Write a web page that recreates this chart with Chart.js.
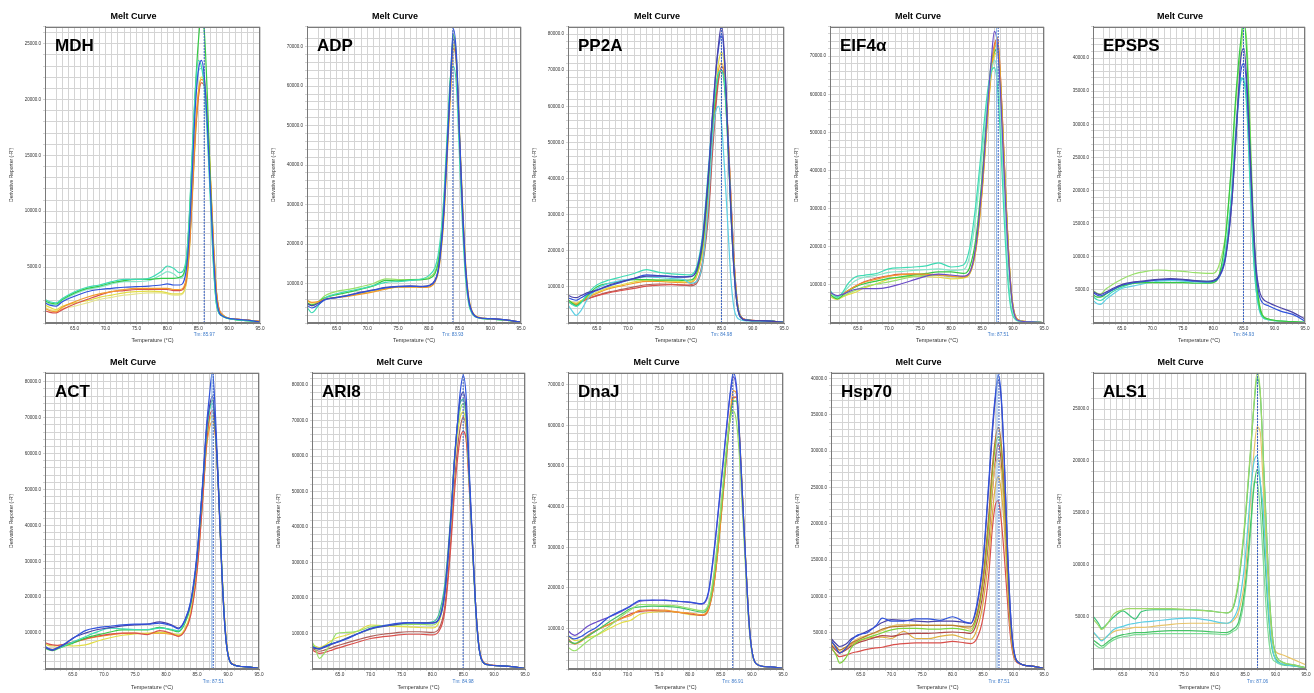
<!DOCTYPE html>
<html>
<head>
<meta charset="utf-8">
<script src="https://cdn.jsdelivr.net/npm/chart.js@4.4.1/dist/chart.umd.min.js"></script>
<style>
  html, body { margin: 0; padding: 0; background: #fff; }
  #wrap { position: relative; width: 1314px; height: 693px; overflow: hidden; background: #fff; }
  #wrap canvas { position: absolute; }
</style>
</head>
<body>
<div id="wrap"></div>
<script>
// line colours of the melt curve software
const BLUE = '#2f52dc', NAVY = '#4b43a8', PURPLE = '#6a4cc8', GREEN = '#35c945', LGREEN = '#98e06a',
      TURQ = '#3fdbb4', LTURQ = '#85e6c8', CYAN = '#5ccfe4', YELLOW = '#e2dc45', LYELLOW = '#e6e48e',
      ORANGE = '#f39a2c', RED = '#d9504c', BROWN = '#b0605a', OYELLOW = '#e8c46a', DGREEN = '#45c466';

// values are derivative reporter in thousands (-R' / 1000)

// MDH
const mdhTemps = [60.2,61,62,63,65,67,69,71,73,75,77,79,80,81,82,83,83.5,84,84.5,85,85.5,86,86.5,87,87.5,88,89,91,93,95];
const mdhCurves = [
  [1.8,1.6,1.5,1.9,2.4,2.8,3.0,3.1,3.2,3.25,3.3,3.4,3.5,3.4,3.4,4.5,7.5,13,19,22.5,23.5,22,17.5,11.5,5.8,2.0,0.6,0.35,0.25,0.1],
  [2.1,1.9,1.8,2.2,2.8,3.2,3.4,3.7,3.9,3.9,4.0,4.6,5.1,4.9,4.5,5.5,9,15,20.5,23.5,23,21,16.5,10.5,4.8,1.5,0.6,0.3,0.2,0.1],
  [2.0,1.8,1.7,2.1,2.7,3.1,3.3,3.6,3.8,3.9,3.9,4.0,4.0,4.0,4.1,5.2,8.8,14.5,20.5,25,27.5,26,20,12,5.2,1.6,0.6,0.3,0.2,0.1],
  [1.9,1.7,1.6,2.0,2.6,3.0,3.2,3.5,3.7,3.7,3.8,4.3,4.6,4.4,4.0,5.0,8.2,14,19.5,22.5,22.8,21.5,17,11,5,1.6,0.6,0.3,0.2,0.1],
  [1.3,1.1,1.0,1.4,1.9,2.3,2.6,2.8,3.0,3.1,3.1,3.1,3.1,3.0,3.0,3.8,6.5,11.5,17,20.5,21.8,21.5,18,12.5,6.5,2.4,0.7,0.35,0.25,0.15],
  [1.1,0.95,0.9,1.2,1.7,2.1,2.5,2.8,2.9,3.0,3.0,3.0,3.0,2.9,2.9,3.6,6.2,11,16.5,20,21.5,21.2,17.8,12.5,6.6,2.5,0.7,0.35,0.25,0.15],
  [1.6,1.4,1.2,1.5,1.8,2.0,2.3,2.5,2.7,2.8,2.85,2.8,2.7,2.6,2.6,3.4,6,11,16.5,20.5,22,21.8,18.5,13,7,2.6,0.7,0.35,0.25,0.15],
  [1.4,1.2,1.1,1.3,1.5,1.8,2.1,2.3,2.5,2.6,2.7,2.7,2.6,2.5,2.5,3.3,5.8,10.5,16,20,21.5,21.2,18,12.8,6.8,2.5,0.7,0.35,0.25,0.15]
];
const mdhColors = [BLUE, TURQ, GREEN, LTURQ, ORANGE, RED, YELLOW, LYELLOW];

// ADP
const adpTemps = [60.2,61,62,63,65,67,69,71,73,75,77,79,80,81,81.5,82,82.5,83,83.5,84,84.5,85,85.5,86,86.5,87,88,90,92.5,95];
const adpCurves = [
  [4.5,3.8,4.6,5.8,6.4,7.0,7.7,8.3,8.9,9.2,9.3,9.2,9.4,10.6,13,19,29,44,60,74.5,68,48,29,14,6,3,1.4,1.1,0.8,0.2],
  [5.0,4.4,5.0,5.9,6.5,7.1,7.8,8.4,9.0,9.3,9.4,9.3,9.5,10.8,13.2,19.5,29.5,44.5,60,72,66,47,28,13.5,5.8,2.9,1.4,1.1,0.8,0.2],
  [5.8,5.2,5.4,6.0,6.4,6.8,7.3,7.9,8.6,9.1,9.1,9.0,9.1,10.3,12.5,18,27.5,42,57,69.5,66,48,30,15,6.5,3.2,1.5,1.1,0.8,0.2],
  [5.6,5.0,5.2,5.9,6.5,7.0,7.5,8.1,8.7,9.1,9.2,9.1,9.3,10.5,12.8,18.5,28,43,58,70.5,67,48.5,30,14.5,6.3,3.1,1.5,1.1,0.8,0.2],
  [4.0,2.6,4.3,6.2,7.4,8.1,8.7,9.5,10.3,10.5,10.8,11.2,12,14,17,23,33,48,62,65,60,42,24,11,4.8,2.5,1.3,1.0,0.7,0.2],
  [5.2,4.6,5.3,6.3,7.2,7.8,8.6,9.4,10.8,10.7,10.9,11.0,11.2,12.5,15,21,31,46,61,73,67,47,28,13,5.5,2.8,1.4,1.0,0.7,0.2],
  [5.0,4.3,5.3,6.8,8.0,8.5,9.2,10,11.2,11.0,11.0,11.1,11.5,13,15.5,21.5,31.5,46.5,61,70,65,46,27,12.5,5.3,2.7,1.4,1.0,0.7,0.2]
];
const adpColors = [BLUE, NAVY, ORANGE, YELLOW, TURQ, GREEN, LGREEN];

// PP2A
const pp2aTemps = [60.4,61,61.7,62.5,63.5,65,67,69,71,73,75,77,79,80,81,82,83,83.5,84,84.5,85,85.5,86,86.5,87,87.5,88,89,92,95];
const pp2aCurves = [
  [7.7,7.2,7.0,7.6,8.4,9.1,10.5,11.5,12.3,13.0,13.0,12.8,12.7,12.8,14.5,23,43,56,68,77,82.5,73,52,31,14.5,5,1.7,0.8,0.6,0.2],
  [7.0,6.6,6.3,7.0,8.0,9.0,10.3,11.3,12.4,13.3,13.1,12.9,12.8,12.9,14.8,24,44,57,68,76,80,72,52,31,14.5,5,1.7,0.8,0.6,0.2],
  [6.0,5.2,4.6,5.6,8.0,10.5,11.9,12.8,13.7,14.8,14.0,13.6,13.4,13.3,15.5,25,45,56,64,69,70,66,50,30,14,5,1.7,0.8,0.6,0.2],
  [5.0,3.5,2.1,3.5,6.5,9.5,11.0,11.8,12.3,12.8,12.6,12.3,12.0,11.0,11.5,17,36,50,58,60,55,42,27,12,4,1.5,0.9,0.6,0.5,0.2],
  [6.5,5.6,4.8,5.8,7.5,10.0,11.0,11.5,12.0,12.0,11.9,11.9,11.8,11.9,13.8,22,41,53,63,69,70,65,50,31,15,5.5,1.8,0.8,0.6,0.2],
  [6.3,5.8,5.5,6.2,7.3,8.5,9.8,10.6,11.4,11.9,11.8,11.6,11.4,11.5,13.3,21,40,53,64,72,75,70,53,33,16,5.5,1.8,0.8,0.6,0.2],
  [6.0,5.5,5.2,6.0,7.0,8.2,9.5,10.3,11.0,11.5,11.5,11.3,11.2,11.2,13,20.5,39,52,63,70,72,68,53,33,16,5.6,1.8,0.8,0.6,0.2],
  [6.0,5.3,5.0,5.8,6.6,7.5,8.4,9.0,9.6,10.2,10.5,10.6,10.5,10.6,11.5,17.5,34,48,60,68,70,67,53,34,17,6,2.0,0.9,0.6,0.2],
  [6.2,5.6,5.4,6.0,6.8,7.6,8.6,9.3,10.0,10.6,10.8,10.7,10.5,10.3,11,16.5,32,46,58,67,71,68,54,35,17.5,6.2,2.0,0.9,0.6,0.2]
];
const pp2aColors = [NAVY, BLUE, TURQ, CYAN, GREEN, YELLOW, ORANGE, RED, BROWN];

// EIF4α
const eifTemps = [60.5,61,61.7,62.5,63.5,64.5,66,68,70,72,74,76,78,80,82,83,84,85,85.5,86,86.5,87,87.5,88,88.5,89,89.5,90,91,93,95];
const eifCurves = [
  [8.1,7.6,7.2,7.5,8.2,8.8,9.0,9.0,9.4,10.3,11.3,12.3,12.8,12.6,12.3,13.2,20,36,47,59,69,76.5,73,60,42,25,12,4,0.6,0.3,0.1],
  [8.6,7.5,6.8,8.0,10.5,12.0,12.5,13.0,14.2,14.5,14.7,15.0,15.8,14.7,15.2,19.5,31,47,55,62,66,67,62,48,30,15,5.5,1.8,0.5,0.3,0.1],
  [8.3,7.3,6.7,7.8,9.5,11.0,12.0,12.5,13.3,13.5,13.8,14.0,14.2,13.8,14.0,17.5,28,44,52,60,66,69,66,54,36,19,7,2.4,0.5,0.3,0.1],
  [8.0,7.4,7.0,7.6,8.6,9.6,10.7,11.5,12.3,12.7,12.9,12.8,12.7,12.3,12.0,13.0,19,34,45,56,66,72,75,64,46,28,13,4.5,0.7,0.3,0.1],
  [7.6,6.8,6.3,7.2,8.5,9.4,10.3,11.0,11.7,12.1,12.6,13.0,13.4,13.4,13.0,14.5,22,38,49,60,68,71,72,62,44,27,12,4,0.6,0.3,0.1],
  [7.8,7.0,6.5,7.0,7.8,8.5,9.5,10.2,10.8,11.5,12.2,12.5,12.6,12.2,12.0,13.0,20,35,46,57,67,72,73,63,45,27,12.5,4.2,0.6,0.3,0.1],
  [7.0,6.5,6.2,6.8,7.5,8.0,9.2,10.3,11.5,12.0,12.3,12.2,12.0,11.6,11.8,12.8,19,34,45,56,65,70,71,62,45,28,13,4.5,0.7,0.3,0.1],
  [8.0,7.4,7.0,7.6,8.6,9.6,10.8,11.8,12.4,12.8,12.8,12.6,12.5,12.3,12.2,13.2,19.5,35,46,57,67,73,74.5,64,46,28,13,4.5,0.7,0.3,0.1]
];
const eifColors = [PURPLE, TURQ, LTURQ, ORANGE, GREEN, LGREEN, YELLOW, RED];

// EPSPS
const epspsTemps = [60.3,61,61.5,62.5,63.5,65,67,69,71,73,75,77,79,80,81,82,83,83.5,84,84.5,85,85.5,86,86.5,87,87.5,88,89,91,93,95];
const epspsCurves = [
  [4.8,4.4,4.3,4.7,5.2,5.8,6.2,6.4,6.6,6.7,6.6,6.4,6.3,6.4,7.2,10,18,25,33,40,41.5,36,26,16,8.4,5,3.8,3.1,2.3,1.6,0.6],
  [4.6,4.2,4.1,4.5,5.0,5.7,6.1,6.3,6.5,6.6,6.5,6.3,6.2,6.3,7.0,9.8,18,25,32.5,38,39.2,35,25,15,7.5,4.2,3.1,2.6,1.8,1.3,0.3],
  [4.3,3.9,3.9,4.4,5.0,5.6,6.0,6.1,6.1,6.1,6.1,6.0,6.0,6.1,7.4,13,24.5,32,38,42.7,46,40,28,15,6.8,2.8,1.2,0.6,0.3,0.2,0.1],
  [4.9,4.5,4.4,5.2,5.8,6.6,7.4,7.8,8.0,7.9,7.8,7.6,7.5,7.5,8.9,13.4,24,31,37,41,45,42,30,17,7.5,3.1,1.3,0.6,0.3,0.2,0.1],
  [4.0,3.5,3.4,4.0,4.7,5.4,6.0,6.3,6.5,6.6,6.5,6.4,6.3,6.4,7.3,11,20,27,33,37,36.5,32,21,11,5,2.2,1.0,0.5,0.3,0.2,0.1],
  [3.4,2.9,2.8,3.6,4.3,5.2,5.6,6.0,6.3,6.4,6.3,6.2,6.1,6.2,7.0,10.5,19,26,32,36.5,37,33,22,11.5,5,2.0,0.9,0.5,0.3,0.2,0.1]
];
const epspsColors = [NAVY, BLUE, GREEN, LGREEN, TURQ, CYAN];

// ACT
const actTemps = [60.5,61,61.7,62.5,63.5,65,67,69,71,73,75,77,79,81,82,83,84,85,86,86.5,87,87.5,88,88.5,89,89.5,90,91,93,95];
const actCurves = [
  [6.3,5.8,5.4,5.9,6.8,8.5,10.7,11.5,11.9,12.3,12.5,12.5,12.8,12.0,11.2,13.5,19,32,54,67,76,82.8,70,50,28,12,4,1.1,0.6,0.2],
  [6.0,5.6,5.2,5.8,6.7,8.6,10.0,11.0,11.5,12.0,12.3,12.5,13.1,12.2,11.4,13.3,18.5,31,53,66,73,76,66,48,27,11.5,3.9,1.1,0.6,0.2],
  [6.0,5.5,5.2,5.7,6.4,7.5,9.0,10.4,11.4,11.2,11.0,11.0,11.4,11.0,10.6,13,18.5,31,53,65,72,74,66,49,28,12,4,1.1,0.6,0.2],
  [5.8,5.4,5.1,5.6,6.3,7.2,8.6,9.5,10.3,10.9,10.9,10.9,11.6,10.8,10.4,12.5,18,31,53,65,72,75,66,49,28,12,4,1.1,0.6,0.2],
  [7.4,7.0,6.7,6.6,6.9,7.5,8.4,9.2,9.7,10.0,10.0,9.6,10.7,9.8,9.1,10.5,15,27,49,62,70,72,65,49,28,12.5,4.2,1.2,0.6,0.2],
  [7.0,6.6,6.4,6.5,6.6,6.4,6.7,7.8,8.7,9.4,9.8,10.0,10.2,9.9,9.5,11,16,28,50,62,69,70.5,65,49,28,12.5,4.2,1.2,0.6,0.2],
  [6.2,5.7,5.5,6.0,6.6,7.3,8.3,9.0,9.5,9.9,10.0,9.8,10.0,9.6,9.2,10.8,15.5,27.5,49,61,67,69,64,49,28.5,12.8,4.3,1.2,0.6,0.2]
];
const actColors = [BLUE, NAVY, TURQ, GREEN, RED, YELLOW, ORANGE];

// ARI8
const ariTemps = [60.5,61,61.7,62.5,63.5,64.5,66,68,70,72,74,76,78,80,81,82,83,83.5,84,84.5,85,85.5,86,86.5,87,87.5,88,89,92,95];
const ariCurves = [
  [6.3,6.0,5.8,6.3,7.0,7.5,8.4,10.0,11.5,12.2,12.8,13.1,13.0,12.9,13.8,21,42,57,68,78,82.8,76,55,36,18,6.8,2.5,1.2,0.8,0.2],
  [6.0,5.8,5.6,6.1,6.8,7.5,8.6,10.0,11.3,12.0,12.5,13.0,13.0,13.0,14,21.5,43,57,68,76,78,72,53,35,18,6.8,2.5,1.2,0.8,0.2],
  [6.5,6.0,5.6,6.3,7.0,7.6,8.6,10.0,11.2,12.0,12.5,12.9,13.0,13.3,15.2,23.7,44,58,68,75,76,70,52,34,17,6.5,2.4,1.2,0.8,0.2],
  [7.7,6.0,3.0,4.5,7.0,10.0,10.3,10.7,11.9,12.2,12.4,12.5,12.6,12.4,14,22.5,43,57,67,73,74.8,70,53,35,18,6.8,2.5,1.2,0.8,0.2],
  [7.0,6.5,6.0,6.6,7.8,8.8,9.5,10.8,12.4,12.2,12.0,11.9,11.7,11.6,13,21,41,55,65,71,72.5,68,52,35,18,7,2.6,1.2,0.8,0.2],
  [5.4,4.9,4.4,4.6,5.2,5.8,6.6,7.6,8.6,9.1,9.5,9.8,9.8,9.6,10.5,16.1,35,48,58,65,67,64,50,34,18,7.2,2.8,1.3,0.8,0.2],
  [5.8,5.4,5.0,5.3,5.9,6.5,7.3,8.3,9.2,9.8,10.2,10.5,10.5,10.3,11.2,17.5,37,51,61,68,71,67,52,35,18,7,2.7,1.3,0.8,0.2]
];
const ariColors = [BLUE, NAVY, '#3fb8a0', LGREEN, YELLOW, RED, BROWN];

// DnaJ
const dnajTemps = [60.4,61,61.5,62.5,63.5,65,67,69,70.5,72,74,76,78,80,82,83,84,85,86,86.5,87,87.5,88,88.5,89,89.5,90,91,93,95];
const dnajCurves = [
  [8.3,7.6,7.4,8.0,9.0,10.3,12.8,14.4,15.6,16.9,17.0,16.9,16.7,16.5,16.1,19,30.6,45.5,61,68,73,70,58,42,26.4,12.4,4.5,1,0.5,0.2],
  [9.5,8.6,8.3,9.2,10.5,11.6,12.8,14.2,15.5,16.7,16.9,17.0,16.7,16.4,16.0,18.6,30,45,60.5,67.5,72,69,57,41,26,12,4.4,1,0.5,0.2],
  [5.4,4.7,4.5,5.5,6.8,8.3,10.5,13,14.6,15.9,15.8,15.7,15.5,14.9,14.4,16,25,40,56,61.5,63.6,61,52,38,24,11,4,1,0.5,0.2],
  [7.0,6.5,6.3,7.0,8.0,9.5,11.6,13.5,14.9,15.3,15.5,15.4,15.2,14.6,14.0,15.5,24,39,55,62,66,66,56,41,26,12,4.5,1,0.5,0.2],
  [7.0,6.4,6.2,6.8,8.0,9.5,11.0,12.4,13.2,14.5,14.6,14.5,14.0,13.8,13.4,14.9,22.3,37.2,55,63,68.6,68,58,42,26.4,12.4,4.5,1,0.5,0.2],
  [7.5,6.6,6.2,7.0,8.2,9.6,11.0,12.5,13.6,14.2,14.4,14.3,14.0,13.6,13.2,14.6,22,37,54,62,67,67,57,42,26.4,12.4,4.5,1,0.5,0.2],
  [8.0,7.4,7.0,7.2,7.7,8.3,9.9,11.4,12.0,13.5,14.0,14.2,14.0,13.4,13.2,14.5,22,36.5,54,62,66.5,67,57,42,26.4,12.4,4.5,1,0.5,0.2]
];
const dnajColors = [BLUE, PURPLE, LGREEN, DGREEN, ORANGE, RED, YELLOW];

// Hsp70
const hspTemps = [60.1,61,61.5,62.5,63.5,64.5,66,67.5,68.5,70,72,74,76,78,80,82,83,84,85,86,86.5,87,87.5,88,88.5,89,89.5,90,91,93,95];
const hspCurves = [
  [4.0,2.8,2.2,2.8,4.0,4.7,5.0,6.0,7.0,6.6,6.6,6.9,6.9,6.7,7.2,6.5,6.3,8.9,14.9,26.4,32.8,37.5,40.5,37.5,28.7,17.2,7.9,2.9,0.8,0.4,0.1],
  [4.2,3.4,3.1,3.4,4.2,4.6,5.2,5.9,6.4,6.8,6.7,6.6,6.5,6.6,6.6,6.4,6.3,8.6,14.5,25.8,32,37,39.8,37,28.5,17,7.8,2.9,0.8,0.4,0.1],
  [3.8,3.0,2.6,3.0,3.6,4.0,4.6,5.1,5.5,5.8,5.9,6.0,6.0,6.0,6.0,5.8,5.8,7.6,12.5,21.8,27.5,31.5,33.3,31,24.5,14.8,6.8,2.6,0.8,0.4,0.1],
  [3.1,1.8,0.8,1.5,3.0,3.8,4.3,4.7,5.0,5.4,5.6,5.6,5.5,5.5,5.6,5.4,5.2,7.2,12,20.5,26.5,30.5,32,30,23.5,14.2,6.5,2.5,0.8,0.4,0.1],
  [3.8,3.0,2.6,3.0,3.6,4.2,4.6,5.0,5.3,5.9,6.1,6.1,6.0,6.0,6.0,5.7,5.5,7,11.5,19.5,24.5,28,29,27,21.5,13,6,2.3,0.8,0.4,0.1],
  [3.3,2.5,2.2,2.6,3.2,3.6,4.0,4.4,4.6,4.5,4.8,4.9,4.9,5.0,5.1,5.0,4.9,6.4,10.5,18.5,24,28.5,31,28.5,22,13.5,6.2,2.4,0.8,0.4,0.1],
  [3.5,2.6,2.3,2.8,3.4,3.8,4.2,4.4,4.4,4.2,5.2,4.2,4.2,4.5,4.7,4.2,4.1,5.4,9,16,21,25,26.5,24.5,19.5,12,5.5,2.2,0.8,0.4,0.1],
  [2.9,2.0,1.7,1.9,2.2,2.4,2.7,2.9,3.0,3.3,3.5,3.6,3.6,3.6,3.8,3.6,3.5,4.2,7.0,13.5,19,22.5,23.2,20.4,15.5,9.5,4.5,1.8,0.7,0.4,0.1]
];
const hspColors = [BLUE, NAVY, '#b87a30', '#7ed33a', OYELLOW, '#b04848', '#e0b040', RED];

// ALS1
const alsTemps = [60.1,61,61.5,62.5,63.5,65,66,67,68,70,73,76,79,82,83,84,85,86,86.5,87,87.5,88,88.5,89,89.5,90,91,93,95];
const alsCurves = [
  [4.8,4.2,3.8,4.4,5.3,5.7,5.8,5.8,5.8,5.8,5.8,5.7,5.6,5.4,5.9,8.8,14.4,21.8,25.7,28.6,26.7,20.2,13.4,6.9,3.0,1.4,0.7,0.4,0.1],
  [5.1,4.4,3.9,4.4,5.0,5.6,5.2,4.8,5.5,5.7,5.7,5.7,5.6,5.4,5.8,8.5,14,21.5,25.5,28,26.5,20.5,13.8,7.2,3.2,1.5,0.7,0.4,0.1],
  [3.6,3.0,2.7,3.2,3.8,4.1,4.3,4.4,4.5,4.6,4.8,4.9,4.7,4.4,4.8,6.2,10.4,17.6,20,20.5,18,15.3,9.5,4.6,2,0.9,0.5,0.3,0.1],
  [3.5,3.0,2.8,3.2,3.6,3.8,3.9,4.0,4.0,4.1,4.3,4.4,4.4,4.4,4.6,5.6,8.8,17,21,23.3,22.8,17.5,11.4,6.2,2.7,1.7,1.4,0.9,0.4],
  [2.8,2.4,2.2,2.6,3.0,3.3,3.4,3.5,3.5,3.6,3.7,3.7,3.6,3.5,3.8,4.6,7.9,14.4,17.6,19.2,17.9,13.4,8.2,4.0,1.8,1.0,0.5,0.3,0.1],
  [2.5,2.1,2.0,2.4,2.8,3.1,3.2,3.3,3.3,3.4,3.4,3.4,3.4,3.3,3.6,4.2,7.2,13.7,18,17.9,15.3,10.4,5.6,2.3,1.0,0.7,0.4,0.3,0.1]
];
const alsColors = ['#9ed868', '#3cc47a', CYAN, OYELLOW, DGREEN, '#7fdc96'];

const genes = ['MDH', 'ADP', 'PP2A', 'EIF4α', 'EPSPS', 'ACT', 'ARI8', 'DnaJ', 'Hsp70', 'ALS1'];
const tmLabels = ['85.97', '83.93', '84.98', '87.51', '84.93', '87.51', '84.98', '86.91', '87.51', '87.06'];
const tmLines = [[85.97], [83.93], [84.98], [87.35, 87.62], [84.93], [87.4, 87.62], [84.98], [86.91], [87.3, 87.62], [87.06]];
const yMax = [26.5, 75, 82, 77.7, 44.7, 82.5, 83.5, 73, 40.8, 28.5];
const yMajor = [5, 10, 10, 10, 5, 10, 10, 10, 5, 5];

const tempSets = [mdhTemps, adpTemps, pp2aTemps, eifTemps, epspsTemps, actTemps, ariTemps, dnajTemps, hspTemps, alsTemps];
const curveSets = [mdhCurves, adpCurves, pp2aCurves, eifCurves, epspsCurves, actCurves, ariCurves, dnajCurves, hspCurves, alsCurves];
const colorSets = [mdhColors, adpColors, pp2aColors, eifColors, epspsColors, actColors, ariColors, dnajColors, hspColors, alsColors];

// page layout (plot box edges in page pixels)
const plotLeft = [45, 307, 568, 830, 1093, 45, 312, 568, 831, 1093];
const plotRight = [260, 521, 784, 1044, 1305, 259, 525, 783, 1044, 1306];

const FONT = '"Liberation Sans", Arial, sans-serif';
const GRID = '#d4d4d4';
const AXW = 38, PADR = 8;

const decoPlugin = {
  id: 'deco',
  afterDraw(chart, args, opts) {
    const { ctx, chartArea: a } = chart;
    const x = chart.scales.x;
    ctx.save();
    ctx.strokeStyle = '#7a7a7a';
    ctx.lineWidth = 1;
    ctx.strokeRect(Math.round(a.left) + 0.5, Math.round(a.top) + 0.5, Math.round(a.width) - 1, Math.round(a.height) - 1);
    ctx.fillStyle = '#000';
    ctx.font = 'bold 17px ' + FONT;
    ctx.textAlign = 'left';
    ctx.textBaseline = 'alphabetic';
    ctx.fillText(opts.gene, a.left + 10, a.top + 24);
    ctx.fillStyle = '#3a78c8';
    ctx.font = '4.7px ' + FONT;
    ctx.textAlign = 'center';
    ctx.textBaseline = 'middle';
    ctx.fillText('Tm: ' + opts.tm, x.getPixelForValue(opts.tmAt), a.bottom + opts.tmGap);
    ctx.restore();
  }
};

const wrap = document.getElementById('wrap');

genes.forEach((gene, p) => {
  const row = p < 5 ? 0 : 1;
  const top = row ? 345 : 0;
  const h = row ? 348 : 345;
  const xAxisH = row ? 24 : 22;
  const w = plotRight[p] - plotLeft[p] + AXW + PADR;

  const cv = document.createElement('canvas');
  cv.width = w;
  cv.height = h;
  cv.style.left = (plotLeft[p] - AXW) + 'px';
  cv.style.top = top + 'px';
  cv.style.width = w + 'px';
  cv.style.height = h + 'px';
  wrap.appendChild(cv);

  const temps = tempSets[p];
  const datasets = curveSets[p].map((vals, i) => ({
    data: temps.map((t, j) => ({ x: t, y: vals[j] })),
    borderColor: colorSets[p][i],
    borderWidth: 1.2,
    pointRadius: 0,
    cubicInterpolationMode: 'monotone',
    fill: false
  }));
  const lines = tmLines[p];
  lines.forEach((t, k) => {
    const light = lines.length > 1 && k === 0;
    datasets.push({
      data: [{ x: t, y: 0 }, { x: t, y: yMax[p] }],
      borderColor: light ? '#8cb6e6' : '#3b63c4',
      borderWidth: 1,
      borderDash: light ? [] : [2, 1],
      pointRadius: 0,
      order: -1
    });
  });

  const major = yMajor[p];
  new Chart(cv, {
    type: 'line',
    data: { datasets },
    options: {
      responsive: false,
      animation: false,
      events: [],
      layout: { padding: { left: 0, right: PADR, top: 0, bottom: 0 } },
      plugins: {
        legend: { display: false },
        tooltip: { enabled: false },
        title: {
          display: true,
          text: 'Melt Curve',
          color: '#000',
          font: { family: FONT, size: 9, weight: 'bold' },
          padding: { top: row ? 12.5 : 11.6, bottom: 4.5 }
        },
        deco: { gene, tm: tmLabels[p], tmAt: lines[lines.length - 1], tmGap: row ? 13 : 12 }
      },
      scales: {
        x: {
          type: 'linear',
          min: temps[0],
          max: 95,
          afterFit: s => { s.height = xAxisH; },
          grid: { color: GRID, lineWidth: 1, tickLength: 2 },
          border: { color: '#7a7a7a' },
          ticks: {
            stepSize: 1,
            autoSkip: false,
            maxRotation: 0,
            minRotation: 0,
            padding: 1,
            color: '#333',
            font: { family: FONT, size: 4.7 },
            callback: v => (Math.abs(v / 5 - Math.round(v / 5)) < 1e-6 ? Number(v).toFixed(1) : '')
          },
          title: {
            display: true,
            text: 'Temperature (°C)',
            color: '#333',
            font: { family: FONT, size: 5.5 },
            padding: { top: 0, bottom: row ? 2 : 1 }
          }
        },
        y: {
          min: 0,
          max: yMax[p],
          afterFit: s => { s.width = AXW; },
          grid: { color: GRID, lineWidth: 1, tickLength: 2 },
          border: { color: '#7a7a7a' },
          ticks: {
            stepSize: major / 5,
            autoSkip: false,
            padding: 2,
            color: '#333',
            font: { family: FONT, size: 4.5 },
            callback: v => (v > 0 && Math.abs(v / major - Math.round(v / major)) < 1e-6 ? (v * 1000).toFixed(1) : '')
          },
          title: {
            display: true,
            text: "Derivative Reporter (-R')",
            color: '#333',
            font: { family: FONT, size: 5 },
            padding: { top: 2, bottom: 0 }
          }
        }
      }
    },
    plugins: [decoPlugin]
  });
});
</script>
</body>
</html>
